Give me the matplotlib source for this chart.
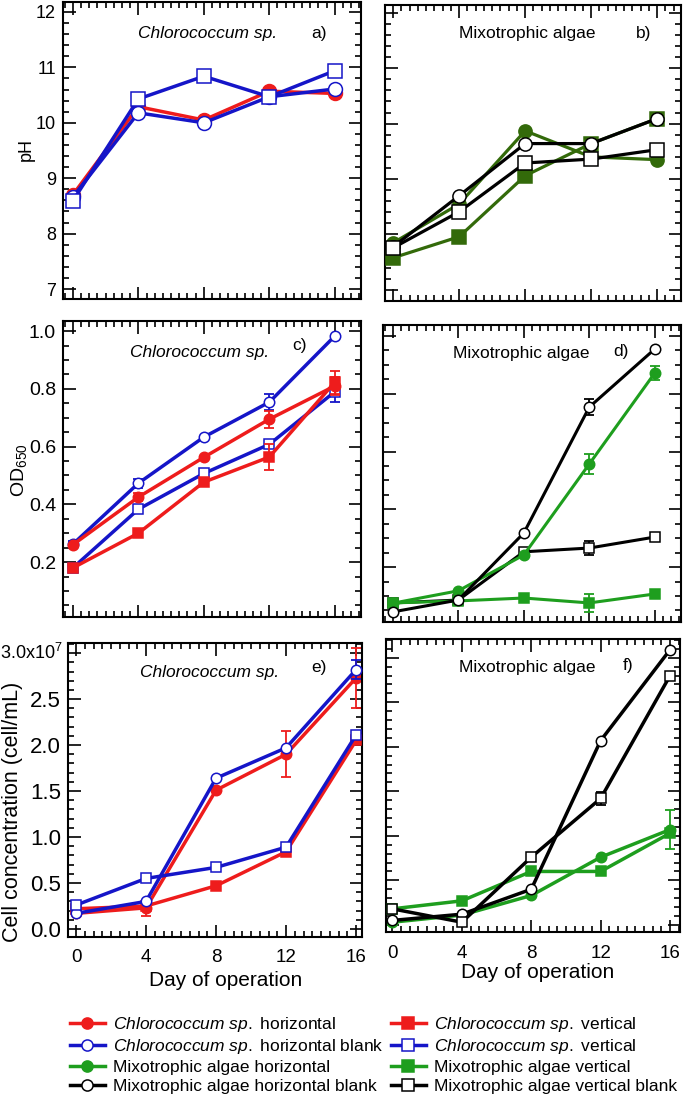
import matplotlib
matplotlib.use("Agg")
import matplotlib.pyplot as plt
from matplotlib.lines import Line2D
from matplotlib.ticker import MultipleLocator, FuncFormatter

plt.rcParams['font.family'] = ['Liberation Sans', 'DejaVu Sans']
plt.rcParams['mathtext.fontset'] = 'custom'
plt.rcParams['mathtext.rm'] = 'Liberation Sans'
plt.rcParams['mathtext.it'] = 'Liberation Sans:italic'

RED = '#ee1c1c'
BLUE = '#1515c8'
OLIVE = '#336a0a'
GREEN = '#1e9e1e'
BLACK = 'black'

days = [0, 4, 8, 12, 16]

# a) pH, Chlorococcum sp.
ph_chl_h = [8.70, 10.29, 10.05, 10.57, 10.53]
ph_chl_hb = [8.66, 10.18, 10.00, 10.47, 10.61]
ph_chl_vb = [8.59, 10.43, 10.84, 10.47, 10.94]

# b) pH, mixotrophic algae
ph_mix_h = [7.85, 8.55, 9.87, 9.40, 9.35]
ph_mix_v = [7.58, 7.96, 9.06, 9.64, 10.09]
ph_mix_hb = [7.78, 8.70, 9.64, 9.64, 10.09]
ph_mix_vb = [7.76, 8.41, 9.29, 9.36, 9.53]

# c) OD650, Chlorococcum sp.
od_chl_h = [0.26, 0.425, 0.563, 0.695, 0.81]
od_chl_h_err = [0, 0.015, 0, 0.03, 0.03]
od_chl_v = [0.18, 0.30, 0.477, 0.564, 0.823]
od_chl_v_err = [0, 0, 0, 0.045, 0.04]
od_chl_hb = [0.262, 0.473, 0.633, 0.754, 0.983]
od_chl_hb_err = [0.01, 0.015, 0, 0.028, 0]
od_chl_vb = [0.18, 0.383, 0.507, 0.608, 0.79]
od_chl_vb_err = [0, 0, 0, 0, 0.035]

# d) OD650, mixotrophic algae
od_mix_h = [0.075, 0.118, 0.242, 0.557, 0.872]
od_mix_h_err = [0, 0, 0, 0.035, 0.024]
od_mix_v = [0.076, 0.083, 0.093, 0.076, 0.107]
od_mix_v_err = [0, 0, 0, 0.03, 0]
od_mix_hb = [0.045, 0.086, 0.318, 0.754, 0.955]
od_mix_hb_err = [0, 0, 0, 0.027, 0]
od_mix_vb = [0.076, 0.086, 0.253, 0.266, 0.304]
od_mix_vb_err = [0, 0, 0, 0.025, 0]

# e) cell concentration (x1e7), Chlorococcum sp.
cc_chl_h = [0.17, 0.23, 1.51, 1.90, 2.73]
cc_chl_h_err = [0, 0.09, 0, 0.25, 0.33]
cc_chl_v = [0.22, 0.25, 0.47, 0.84, 2.05]
cc_chl_hb = [0.17, 0.30, 1.64, 1.97, 2.82]
cc_chl_hb_err = [0, 0, 0, 0, 0.1]
cc_chl_vb = [0.26, 0.55, 0.67, 0.89, 2.11]

# f) cell concentration (x1e7), mixotrophic algae
cc_mix_h = [0.03, 0.11, 0.33, 0.76, 1.07]
cc_mix_h_err = [0, 0, 0, 0, 0.22]
cc_mix_v = [0.18, 0.27, 0.60, 0.60, 1.03]
cc_mix_hb = [0.05, 0.12, 0.40, 2.07, 3.09]
cc_mix_vb = [0.18, 0.03, 0.76, 1.42, 2.80]
cc_mix_vb_err = [0, 0, 0, 0.07, 0]

W, H = 685, 1102
fig = plt.figure(figsize=(6.85, 11.02), dpi=100)


def make_ax(x0, y0, x1, y1):
    # pixel box (top-left origin) -> figure fraction
    return fig.add_axes([x0 / W, 1 - y1 / H, (x1 - x0) / W, (y1 - y0) / H])


def draw(ax, y, color, marker, filled, ms, lw, z, err=None):
    face = color if filled else 'white'
    if err is not None:
        ax.errorbar(days, y, yerr=err, fmt='none', ecolor=color, elinewidth=1.3,
                    capsize=3.5, capthick=1.3, zorder=z, clip_on=False)
    ax.plot(days, y, color=color, lw=lw, marker=marker, ms=ms, mfc=face,
            mec=color, mew=1.1, zorder=z + 0.5, clip_on=False)


def style(ax, xlim, ylim, ymaj, ymin, labelsize, xlabels=False, ylabels=True):
    ax.set_xlim(*xlim)
    ax.set_ylim(*ylim)
    ax.xaxis.set_major_locator(MultipleLocator(4))
    ax.xaxis.set_minor_locator(MultipleLocator(0.5))
    ax.yaxis.set_major_locator(MultipleLocator(ymaj))
    ax.yaxis.set_minor_locator(MultipleLocator(ymin))
    ax.tick_params(which='both', direction='in', top=True, right=True, width=1.2)
    ax.tick_params(which='major', length=9, labelsize=labelsize, pad=5)
    ax.tick_params(which='minor', length=4.5)
    if not xlabels:
        ax.tick_params(axis='x', labelbottom=False)
    else:
        ax.tick_params(axis='x', labelsize=13.5, pad=9)
    if not ylabels:
        ax.tick_params(axis='y', labelleft=False)
    for s in ax.spines.values():
        s.set_linewidth(1.5)


def tag(ax, name, letter, nx, ny, lx, ly, italic):
    ax.text(nx, ny, name, transform=ax.transAxes, ha='center', va='center',
            fontsize=12.5, style='italic' if italic else 'normal')
    ax.text(lx, ly, letter, transform=ax.transAxes, ha='center', va='center',
            fontsize=12.5)


# a)
ax = make_ax(63, 2, 361, 299)
draw(ax, ph_chl_h, RED, 'o', True, 10, 2.5, 2)
draw(ax, ph_chl_hb, BLUE, 'o', False, 10, 2.5, 3)
draw(ax, ph_chl_vb, BLUE, 's', False, 10, 2.5, 4)
style(ax, (-0.6, 17.6), (6.82, 12.18), 1, 0.2, 13)
tag(ax, 'Chlorococcum sp.', 'a)', 0.485, 0.895, 0.86, 0.895, True)

# b)
ax = make_ax(385, 5, 681, 301)
draw(ax, ph_mix_h, OLIVE, 'o', True, 9.5, 2.3, 2)
draw(ax, ph_mix_v, OLIVE, 's', True, 9.5, 2.3, 3)
draw(ax, ph_mix_hb, BLACK, 'o', False, 9.5, 2.3, 4)
draw(ax, ph_mix_vb, BLACK, 's', False, 9.5, 2.3, 5)
style(ax, (-0.5, 17.45), (6.80, 12.14), 1, 0.2, 13, ylabels=False)
tag(ax, 'Mixotrophic algae', 'b)', 0.48, 0.905, 0.875, 0.905, False)

# c)
ax = make_ax(63, 321, 361, 617)
draw(ax, od_chl_hb, BLUE, 'o', False, 7.5, 2.5, 2, od_chl_hb_err)
draw(ax, od_chl_vb, BLUE, 's', False, 7.5, 2.5, 3, od_chl_vb_err)
draw(ax, od_chl_h, RED, 'o', True, 7.5, 2.5, 4, od_chl_h_err)
draw(ax, od_chl_v, RED, 's', True, 7.5, 2.5, 5, od_chl_v_err)
style(ax, (-0.6, 17.6), (0.01, 1.035), 0.2, 0.05, 14)
ax.yaxis.set_major_formatter(FuncFormatter(lambda v, p: f'{v:.1f}'))
tag(ax, 'Chlorococcum sp.', 'c)', 0.457, 0.895, 0.795, 0.918, True)

# d)
ax = make_ax(383, 325, 681, 622)
draw(ax, od_mix_vb, BLACK, 's', False, 7.5, 2.2, 2, od_mix_vb_err)
draw(ax, od_mix_h, GREEN, 'o', True, 7.5, 2.2, 3, od_mix_h_err)
draw(ax, od_mix_v, GREEN, 's', True, 7.5, 2.2, 4, od_mix_v_err)
draw(ax, od_mix_hb, BLACK, 'o', False, 7.5, 2.2, 5, od_mix_hb_err)
style(ax, (-0.6, 17.6), (0.01, 1.038), 0.2, 0.05, 14, ylabels=False)
tag(ax, 'Mixotrophic algae', 'd)', 0.465, 0.905, 0.8, 0.91, False)

# e)
ax = make_ax(68, 643, 362, 937)
draw(ax, cc_chl_h, RED, 'o', True, 7.5, 2.5, 2, cc_chl_h_err)
draw(ax, cc_chl_v, RED, 's', True, 7.5, 2.5, 3)
draw(ax, cc_chl_hb, BLUE, 'o', False, 7.5, 2.5, 4, cc_chl_hb_err)
draw(ax, cc_chl_vb, BLUE, 's', False, 7.5, 2.5, 5)
style(ax, (-0.46, 16.34), (-0.087, 3.11), 0.5, 0.1, 16, xlabels=True)
# top label is written separately at a smaller size so it fits the margin
ax.yaxis.set_major_formatter(FuncFormatter(
    lambda v, p: '' if abs(v - 3.0) < 1e-6 else f'{v:.1f}'))
ax.set_xticks(days)
tag(ax, 'Chlorococcum sp.', 'e)', 0.48, 0.9, 0.855, 0.918, True)
fig.text(63 / W, 1 - 653 / H, '3.0x10$^{7}$', ha='right', va='center', fontsize=13)

# f)
ax = make_ax(386, 639, 680, 932)
draw(ax, cc_mix_h, GREEN, 'o', True, 7.5, 2.5, 2, cc_mix_h_err)
draw(ax, cc_mix_v, GREEN, 's', True, 7.5, 2.5, 3)
draw(ax, cc_mix_hb, BLACK, 'o', False, 7.5, 2.5, 4)
draw(ax, cc_mix_vb, BLACK, 's', False, 7.5, 2.5, 5, cc_mix_vb_err)
style(ax, (-0.37, 16.57), (-0.08, 3.21), 0.5, 0.1, 16, xlabels=True, ylabels=False)
ax.set_xticks(days)
tag(ax, 'Mixotrophic algae', 'f)', 0.48, 0.904, 0.825, 0.911, False)

# axis titles
fig.text(26 / W, 1 - 150 / H, 'pH', rotation=90, ha='center', va='center', fontsize=13)
fig.text(19 / W, 1 - 470 / H, 'OD$_{650}$', rotation=90, ha='center', va='center', fontsize=14)
fig.text(13 / W, 1 - 812 / H, 'Cell concentration (cell/mL)', rotation=90,
         ha='center', va='center', fontsize=15.5)
fig.text(226 / W, 1 - 980 / H, 'Day of operation', ha='center', va='center', fontsize=15)
fig.text(538 / W, 1 - 973 / H, 'Day of operation', ha='center', va='center', fontsize=15)

# legend
chl = r'$\it{Chlorococcum\ sp.}$'
labels = [chl + ' horizontal', chl + ' horizontal blank',
          'Mixotrophic algae horizontal', 'Mixotrophic algae horizontal blank',
          chl + ' vertical', chl + ' vertical',
          'Mixotrophic algae vertical', 'Mixotrophic algae vertical blank']
specs = [(RED, 'o', True), (BLUE, 'o', False), (GREEN, 'o', True), (BLACK, 'o', False),
         (RED, 's', True), (BLUE, 's', False), (GREEN, 's', True), (BLACK, 's', False)]
handles = [Line2D([], [], color=c, lw=2.5, marker=m, ms=8,
                  mfc=c if f else 'white', mec=c, mew=1.1) for c, m, f in specs]
fig.legend(handles, labels, ncol=2, loc='upper left',
           bbox_to_anchor=(70 / W, 1 - 1015 / H), frameon=False, fontsize=12.5,
           handlelength=2.0, handletextpad=0.5, columnspacing=0.4,
           labelspacing=0.2, borderpad=0, borderaxespad=0)

fig.savefig('out.png', dpi=100)
